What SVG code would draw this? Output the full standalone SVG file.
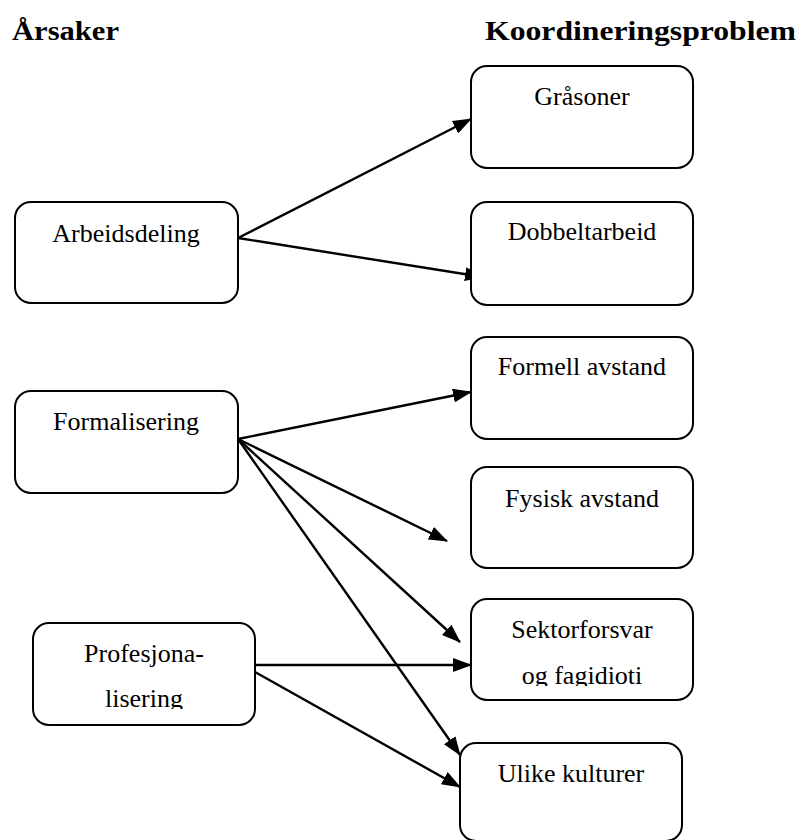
<svg xmlns="http://www.w3.org/2000/svg" width="802" height="840" viewBox="0 0 802 840">
  <style>
    .box { fill: #ffffff; stroke: #000000; stroke-width: 2; }
    .lbl { font-family: "Liberation Serif", "Times New Roman", serif; font-size: 26px; fill: #000000; text-anchor: middle; }
    .hdr { font-family: "Liberation Serif", "Times New Roman", serif; font-size: 28px; font-weight: bold; fill: #000000; }
    .conn { stroke: #000000; stroke-width: 2.4; fill: none; marker-end: url(#arrow); }
  </style>
  <defs>
    <marker id="arrow" viewBox="0 0 19 14" refX="18" refY="7" markerWidth="19" markerHeight="14" markerUnits="userSpaceOnUse" orient="auto">
      <path d="M0,0 L19,7 L0,14 Z" fill="#000000"/>
    </marker>
    <clipPath id="clipSektor">
      <rect x="471" y="599" width="222" height="87"/>
    </clipPath>
    <clipPath id="clipProf">
      <rect x="33" y="623" width="222" height="86"/>
    </clipPath>
  </defs>
  <rect width="802" height="840" fill="#ffffff"/>

  <text class="hdr" x="12" y="40" textLength="107" lengthAdjust="spacingAndGlyphs">Årsaker</text>
  <text class="hdr" x="485" y="40" textLength="311" lengthAdjust="spacingAndGlyphs">Koordineringsproblem</text>

  <g id="connectors">
    <line class="conn" x1="238" y1="238" x2="471" y2="119"/>
    <line class="conn" x1="238" y1="238" x2="483" y2="277"/>
    <line class="conn" x1="238" y1="439" x2="471" y2="392"/>
    <line class="conn" x1="238" y1="439" x2="447" y2="541"/>
    <line class="conn" x1="238" y1="439" x2="460" y2="642"/>
    <line class="conn" x1="238" y1="439" x2="460" y2="755"/>
    <line class="conn" x1="255" y1="665" x2="471" y2="665"/>
    <line class="conn" x1="255" y1="672" x2="460" y2="787"/>
  </g>

  <g id="arbeidsdeling">
    <rect class="box" x="15" y="202" width="223" height="101" rx="16" ry="16"/>
    <text class="lbl" x="126" y="242">Arbeidsdeling</text>
  </g>
  <g id="formalisering">
    <rect class="box" x="15" y="391" width="223" height="102" rx="16" ry="16"/>
    <text class="lbl" x="126" y="430">Formalisering</text>
  </g>
  <g id="profesjonalisering">
    <rect class="box" x="33" y="623" width="222" height="102" rx="16" ry="16"/>
    <text class="lbl" x="144" y="662">Profesjona-</text>
    <text class="lbl" x="144" y="707" clip-path="url(#clipProf)">lisering</text>
  </g>

  <g id="grasoner">
    <rect class="box" x="471" y="66" width="222" height="102" rx="16" ry="16"/>
    <text class="lbl" x="582" y="105">Gråsoner</text>
  </g>
  <g id="dobbeltarbeid">
    <rect class="box" x="471" y="202" width="222" height="103" rx="16" ry="16"/>
    <text class="lbl" x="582" y="240">Dobbeltarbeid</text>
  </g>
  <g id="formell-avstand">
    <rect class="box" x="471" y="337" width="222" height="102" rx="16" ry="16"/>
    <text class="lbl" x="582" y="375">Formell avstand</text>
  </g>
  <g id="fysisk-avstand">
    <rect class="box" x="471" y="467" width="222" height="101" rx="16" ry="16"/>
    <text class="lbl" x="582" y="507">Fysisk avstand</text>
  </g>
  <g id="sektorforsvar">
    <rect class="box" x="471" y="599" width="222" height="101" rx="16" ry="16"/>
    <text class="lbl" x="582" y="638">Sektorforsvar</text>
    <text class="lbl" x="582" y="684" clip-path="url(#clipSektor)">og fagidioti</text>
  </g>
  <g id="ulike-kulturer">
    <rect class="box" x="460" y="743" width="222" height="98" rx="16" ry="16"/>
    <text class="lbl" x="571" y="782">Ulike kulturer</text>
  </g>
</svg>
